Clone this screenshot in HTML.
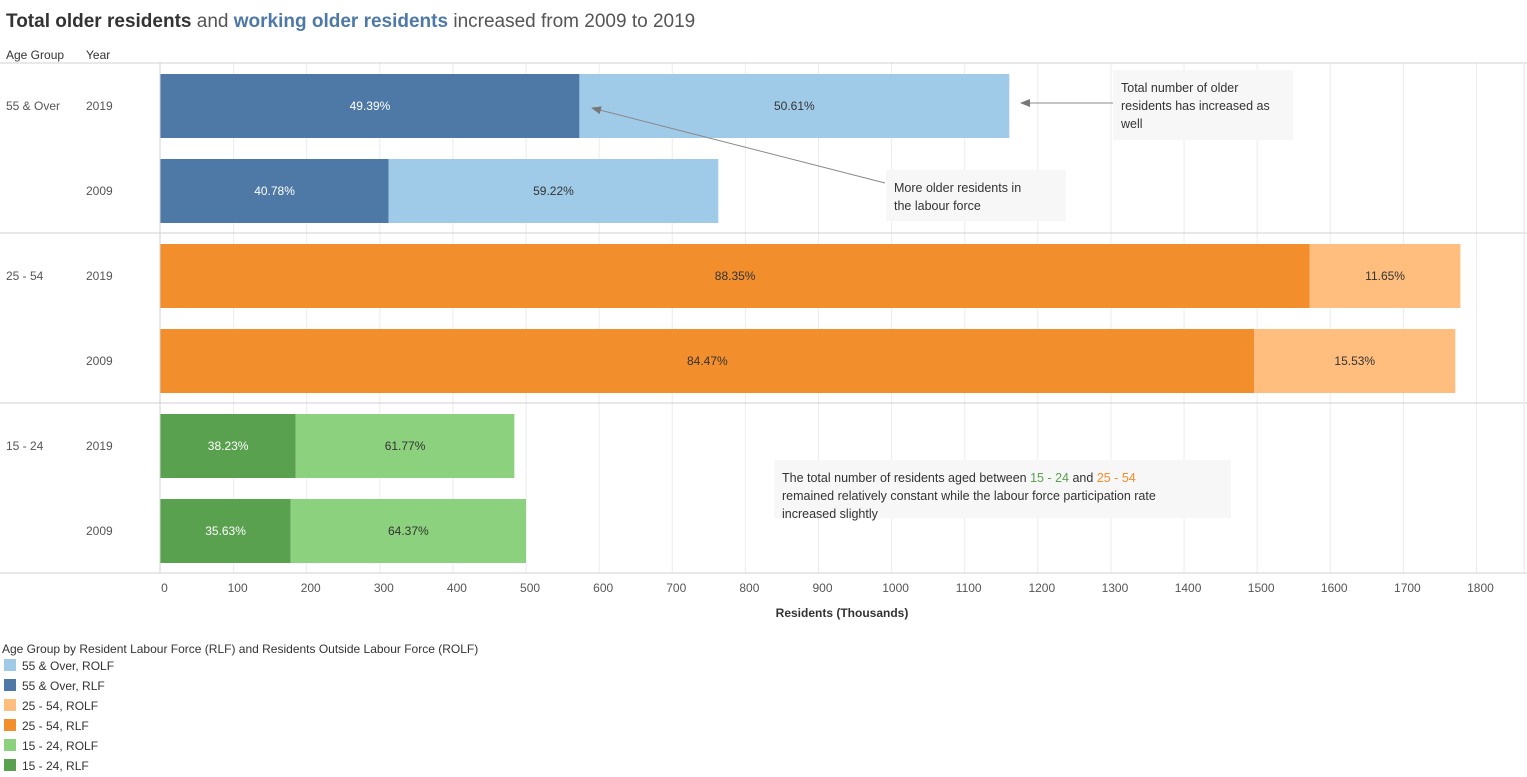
<!DOCTYPE html>
<html><head><meta charset="utf-8"><style>
body{margin:0;background:#fff;font-family:"Liberation Sans",sans-serif;}
svg{display:block}
</style></head><body>
<svg id="c" width="1527" height="777" xmlns="http://www.w3.org/2000/svg" font-family="Liberation Sans, sans-serif">
<text x="6" y="27" font-size="19" fill="#555"><tspan font-weight="bold" fill="#333">Total older residents</tspan> and <tspan font-weight="bold" fill="#4e79a7">working older residents</tspan> increased from 2009 to 2019</text>
<text x="6" y="59" font-size="12" fill="#333">Age Group</text>
<text x="86" y="59" font-size="12" fill="#333">Year</text>
<g id="grid"></g>
<g id="bars"></g>
<g id="ann"></g>
<g id="legend"></g>
</svg>
<script>
const groups=["55 & Over","25 - 54","15 - 24"];
const years=["2019","2009"];
const rlf=[573,312,1572,1496,185,178];
const rolf=[588,451,206,275,299,322];
const pctRlf=["49.39%","40.78%","88.35%","84.47%","38.23%","35.63%"];
const pctRolf=["50.61%","59.22%","11.65%","15.53%","61.77%","64.37%"];
const ticks=[0,100,200,300,400,500,600,700,800,900,1000,1100,1200,1300,1400,1500,1600,1700,1800];
const colors=[["#4e79a7","#a0cbe8"],["#f28e2b","#ffbe7d"],["#59a14f","#8cd17d"]];
const textCol=[["#fff","#333"],["#333","#333"],["#fff","#333"]];
const NS="http://www.w3.org/2000/svg";
const x0=160.5,k=0.7311;
const X=v=>x0+v*k;
function el(t,a,p,txt){const e=document.createElementNS(NS,t);for(const q in a)e.setAttribute(q,a[q]);if(txt!==undefined)e.textContent=txt;p.appendChild(e);return e;}
const G=document.getElementById('grid'),B=document.getElementById('bars'),A=document.getElementById('ann'),L=document.getElementById('legend');
ticks.forEach(t=>{
 if(t>0){const l=el('line',{x1:X(t),x2:X(t),y1:63,y2:573,stroke:'#ececec'},G);
 
 }
 const tx=el('text',{x:X(t)+4,y:592,'font-size':12,fill:'#555','text-anchor':'middle'},G,t);
 
 
});
[[0,63],[0,233],[0,403],[0,573]].forEach(([a,y])=>{el('line',{x1:0,x2:1527,y1:y,y2:y,stroke:'#d0d0d0'},G);});
el('line',{x1:160,x2:160,y1:63,y2:573,stroke:'#d0d0d0'},G);
el('line',{x1:1524,x2:1524,y1:63,y2:573,stroke:'#e4e4e4'},G);
const xt=el('text',{x:842,y:617,'font-size':12,'font-weight':'bold',fill:'#333','text-anchor':'middle'},G,'Residents (Thousands)');


for(let i=0;i<6;i++){
 const g=Math.floor(i/2),yr=i%2;const y=74+i*85;
 if(yr===0){const gl=el('text',{x:6,y:110+g*170,'font-size':12,fill:'#555'},B,groups[g]);
 
 }
 const yl=el('text',{x:86,y:y+36,'font-size':12,fill:'#555'},B,years[yr]);
 
 
 const r1=el('rect',{x:X(0),y:y,width:X(rlf[i])-X(0),height:64,fill:colors[g][0]},B);
 
 
 const r2=el('rect',{x:X(rlf[i]),y:y,width:X(rlf[i]+rolf[i])-X(rlf[i]),height:64,fill:colors[g][1]},B);
 
 
 el('text',{x:(X(0)+X(rlf[i]))/2,y:y+36,'font-size':12,fill:textCol[g][0],'text-anchor':'middle'},B,pctRlf[i]);
 el('text',{x:(X(rlf[i])+X(rlf[i]+rolf[i]))/2,y:y+36,'font-size':12,fill:textCol[g][1],'text-anchor':'middle'},B,pctRolf[i]);
}
// annotations
function box(x,y,w,h,lines,name){const g=el('g',{},A);
 el('rect',{x:x,y:y,width:w,height:h,fill:'#f7f7f7'},g);
 lines.forEach((l,j)=>{const t=el('text',{x:x+8,y:y+22+j*18,'font-size':12.5,fill:'#333'},g);t.innerHTML=l;});}
el('defs',{},A).innerHTML='<marker id="ah" markerWidth="10" markerHeight="8" refX="9" refY="4" orient="auto"><path d="M0,0 L10,4 L0,8 z" fill="#777"/></marker>';
el('line',{x1:1113,y1:103,x2:1021,y2:103,stroke:'#888','marker-end':'url(#ah)'},A);
el('line',{x1:885,y1:183,x2:592,y2:108,stroke:'#888','marker-end':'url(#ah)'},A);
box(1113,70,180,70,['Total number of older','residents has increased as','well'],'annotation-total');
box(886,170,180,51,['More older residents in','the labour force'],'annotation-labour');
box(774,460,457,58,['The total number of residents aged between <tspan fill="#59a14f">15 - 24</tspan> and <tspan fill="#f28e2b">25 - 54</tspan>','remained relatively constant while the labour force participation rate','increased slightly'],'annotation-constant');
// legend
const lt=el('text',{x:2,y:653,'font-size':12,fill:'#333'},L,'Age Group by Resident Labour Force (RLF) and Residents Outside Labour Force (ROLF)');


const legNames=["55 & Over, ROLF","55 & Over, RLF","25 - 54, ROLF","25 - 54, RLF","15 - 24, ROLF","15 - 24, RLF"];
legNames.forEach((n,j)=>{const g=el('g',{},L);
 
 
 const c=colors[Math.floor(j/2)][j%2===0?1:0];
 el('rect',{x:4,y:659+j*20,width:12,height:12,fill:c},g);
 el('text',{x:22,y:670+j*20,'font-size':12,fill:'#333'},g,n);});
</script>
</body></html>
